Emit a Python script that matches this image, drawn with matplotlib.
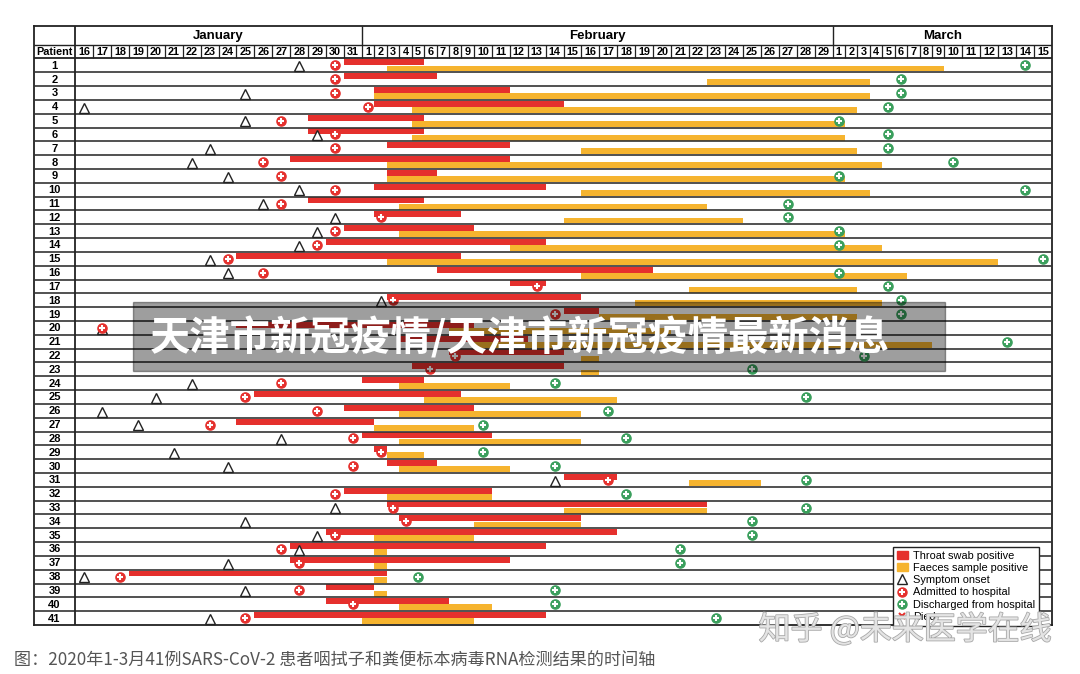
import matplotlib
matplotlib.use('Agg')
import numpy as np
import matplotlib.pyplot as plt
import matplotlib.patheffects as pe
from matplotlib.patches import Rectangle, Patch
from matplotlib.lines import Line2D

plt.rcParams['font.family'] = ['Liberation Sans', 'DejaVu Sans']
CJK = ['Noto Sans CJK SC', 'DejaVu Sans']

### data (dates as month-day)
patients = list(range(1, 42))
onset = ['1-28', None, '1-25', '1-16', '1-25', '1-29', '1-23', '1-22', '1-24', '1-28',
         '1-26', '1-30', '1-29', '1-28', '1-23', '1-24', None, '2-2', None, '1-17',
         None, None, None, '1-22', '1-20', '1-17', '1-19', '1-27', '1-21', '1-24',
         '2-14', None, '1-30', '1-25', '1-29', '1-28', '1-24', '1-16', '1-25', None,
         '1-23']
admitted = ['1-30', '1-30', '1-30', '2-1', '1-27', '1-30', '1-30', '1-26', '1-27', '1-30',
            '1-27', '2-2', '1-30', '1-29', '1-24', '1-26', '2-13', '2-3', '2-14', '1-17',
            None, '2-8', '2-6', '1-27', '1-25', '1-29', '1-23', '1-31', '2-2', '1-31',
            '2-17', '1-30', '2-3', '2-4', '1-30', '1-27', '1-28', '1-18', '1-28', '1-31',
            '1-25']
discharged = ['3-14', '3-6', '3-6', '3-5', '3-1', '3-5', '3-5', '3-10', '3-1', '3-14',
              '2-27', '2-27', '3-1', '3-1', '3-15', '3-1', '3-5', '3-6', '3-6', None,
              '3-13', '3-3', '2-25', '2-14', '2-28', '2-17', '2-10', '2-18', '2-10', '2-14',
              '2-28', '2-18', '2-28', '2-25', '2-25', '2-21', '2-21', '2-5', '2-14', '2-14',
              '2-23']
throat = [('1-31', '2-5'), ('1-31', '2-6'), ('2-2', '2-11'), ('2-2', '2-14'), ('1-29', '2-5'),
          ('1-29', '2-5'), ('2-3', '2-11'), ('1-28', '2-11'), ('2-3', '2-6'), ('2-2', '2-13'),
          ('1-29', '2-5'), ('2-2', '2-8'), ('1-31', '2-9'), ('1-30', '2-13'), ('1-25', '2-8'),
          ('2-7', '2-19'), ('2-12', '2-13'), ('2-3', '2-15'), ('2-15', '2-16'), ('1-25', '2-9'),
          ('2-4', '2-12'), ('2-8', '2-14'), ('2-5', '2-14'), ('2-1', '2-5'), ('1-26', '2-8'),
          ('1-31', '2-9'), ('1-25', '2-1'), ('2-1', '2-10'), ('2-2', '2-2'), ('2-3', '2-6'),
          ('2-15', '2-17'), ('1-31', '2-10'), ('2-3', '2-22'), ('2-4', '2-15'), ('1-30', '2-17'),
          ('1-28', '2-13'), ('1-28', '2-11'), ('1-19', '2-2'), ('1-30', '2-1'), ('1-30', '2-7'),
          ('1-26', '2-13')]
faeces = [('2-3', '3-9'), ('2-23', '3-3'), ('2-2', '3-3'), ('2-5', '3-2'), ('2-5', '3-1'),
          ('2-5', '3-1'), ('2-16', '3-2'), ('2-3', '3-4'), ('2-3', '3-1'), ('2-16', '3-3'),
          ('2-4', '2-22'), ('2-15', '2-24'), ('2-4', '3-1'), ('2-12', '3-4'), ('2-3', '3-12'),
          ('2-16', '3-6'), ('2-22', '3-2'), ('2-19', '3-4'), ('2-17', '3-2'), ('2-8', '2-20'),
          ('2-10', '3-8'), ('2-16', '2-16'), ('2-16', '2-16'), ('2-4', '2-11'), ('2-6', '2-17'),
          ('2-4', '2-15'), ('2-2', '2-9'), ('2-4', '2-15'), ('2-3', '2-5'), ('2-4', '2-11'),
          ('2-22', '2-25'), ('2-3', '2-10'), ('2-15', '2-22'), ('2-10', '2-15'), ('2-2', '2-9'),
          ('2-2', '2-2'), ('2-2', '2-2'), ('2-2', '2-2'), ('2-2', '2-2'), ('2-4', '2-10'),
          ('2-1', '2-9')]

months = ['January', 'February', 'March']
month_days = [range(16, 32), range(1, 30), range(1, 16)]
legend_labels = ['Throat swab positive', 'Faeces sample positive', 'Symptom onset',
                 'Admitted to hospital', 'Discharged from hospital', 'Died']
banner = '天津市新冠疫情/天津市新冠疫情最新消息'
caption = '图：2020年1-3月41例SARS-CoV-2 患者咽拭子和粪便标本病毒RNA检测结果的时间轴'
watermark = '知乎 @未来医学在线'

RED = '#e5302d'
YEL = '#f6b42f'
GRN = '#3a9f5c'

### column layout: two-digit day cells are wider than one-digit ones
day_labels = [str(d) for days in month_days for d in days]
widths = np.array([17.9 if len(l) == 2 else 12.4 for l in day_labels])
edges = np.concatenate([[0], np.cumsum(widths)])
centers = (edges[:-1] + edges[1:]) / 2
PAT_W = 41
month_start = np.cumsum([0] + [len(d) for d in month_days])

def idx(s):
    m, d = map(int, s.split('-'))
    return month_start[m - 1] + d - month_days[m - 1][0]

fig = plt.figure(figsize=(10.8, 6.74), dpi=100)
W, H = 1080, 674
ax = fig.add_axes([34 / W, 1 - 625 / H, (1052 - 34) / W, (625 - 26) / H])
ax.set_xlim(-PAT_W, edges[-1])
ax.set_ylim(41, -2.35)
ax.set_xticks([]), ax.set_yticks([])
for s in ax.spines.values():
    s.set_linewidth(1.3)
    s.set_color('#222222')

# grid
ax.hlines(np.arange(1, 41), -PAT_W, edges[-1], color='#333333', lw=1.2, zorder=3)
ax.hlines([0], -PAT_W, edges[-1], color='#222222', lw=1.3, zorder=3)
ax.hlines([-1], -PAT_W, edges[-1], color='#222222', lw=1.0, zorder=3)
ax.vlines([0], -2.35, 41, color='#222222', lw=1.3, zorder=3)
ax.vlines(edges[1:-1], -1, 0, color='#222222', lw=0.9, zorder=3)
ax.vlines(edges[month_start[1:-1]], -2.35, -1, color='#222222', lw=1.0, zorder=3)

# header text
for k, m in enumerate(months):
    xm = (edges[month_start[k]] + edges[month_start[k + 1]]) / 2
    ax.text(xm, -1.65, m, ha='center', va='center', fontsize=9.5, fontweight='bold')
for x, l in zip(centers, day_labels):
    ax.text(x, -0.47, l, ha='center', va='center', fontsize=7.8, fontweight='bold')
ax.text(-PAT_W / 2, -0.47, 'Patient', ha='center', va='center', fontsize=7.8, fontweight='bold')
for p in patients:
    ax.text(-PAT_W / 2, p - 0.47, str(p), ha='center', va='center', fontsize=8, fontweight='bold')

# bars
for p, (a, b) in zip(patients, throat):
    ax.barh(p - 1 + 0.275, edges[idx(b) + 1] - edges[idx(a)], left=edges[idx(a)],
            height=0.43, color=RED, zorder=2)
for p, (a, b) in zip(patients, faeces):
    ax.barh(p - 1 + 0.725, edges[idx(b) + 1] - edges[idx(a)], left=edges[idx(a)],
            height=0.43, color=YEL, zorder=2)

# markers
for p, d in zip(patients, onset):
    if d:
        ax.plot(centers[idx(d)], p - 0.45, marker='^', ms=7.5, mfc='white', mec='#222222',
                mew=1.0, zorder=4)
for lst, col in [(admitted, RED), (discharged, GRN)]:
    for p, d in zip(patients, lst):
        if d:
            ax.plot(centers[idx(d)], p - 0.5, marker='o', ms=6.6, color=col, zorder=4)
            ax.plot(centers[idx(d)], p - 0.5, marker='+', ms=3.8, mew=1.5, color='white', zorder=5)

# legend
handles = [Patch(color=RED), Patch(color=YEL),
           Line2D([], [], ls='', marker='^', ms=7, mfc='white', mec='#222222'),
           (Line2D([], [], ls='', marker='o', ms=6.5, color=RED),
            Line2D([], [], ls='', marker='+', ms=3.8, mew=1.5, color='white')),
           (Line2D([], [], ls='', marker='o', ms=6.5, color=GRN),
            Line2D([], [], ls='', marker='+', ms=3.8, mew=1.5, color='white')),
           Line2D([], [], ls='', marker='x', ms=5, mew=1.5, color=RED)]
leg = fig.legend(handles, legend_labels, loc='upper left', bbox_to_anchor=(893 / W, 1 - 547 / H),
                 borderaxespad=0, fontsize=7.9, handlelength=1.0, handleheight=0.7,
                 handletextpad=0.5, labelspacing=0.2, borderpad=0.35, fancybox=False,
                 framealpha=1, edgecolor='#222222')
leg.get_frame().set_linewidth(1.0)
leg.set_zorder(6)

# overlay banner, watermark, caption
fig.patches.append(Rectangle((133 / W, 1 - 371 / H), (945 - 133) / W, 69 / H,
                             transform=fig.transFigure, color='black', alpha=0.38, zorder=10))
fig.text(150 / W, 1 - 338 / H, banner, color='white', fontsize=29, fontweight='bold',
         family=CJK, va='center', ha='left', zorder=11)
fig.text(1052 / W, 1 - 630 / H, watermark, color='#e4e4e4', fontsize=23, family=CJK,
         ha='right', va='center', zorder=11,
         path_effects=[pe.withStroke(linewidth=1.2, foreground='#a8a8a8')])
fig.text(14 / W, 1 - 661 / H, caption, color='#555555', fontsize=12.3, family=CJK,
         ha='left', va='center')

fig.savefig('out.png', dpi=100)
